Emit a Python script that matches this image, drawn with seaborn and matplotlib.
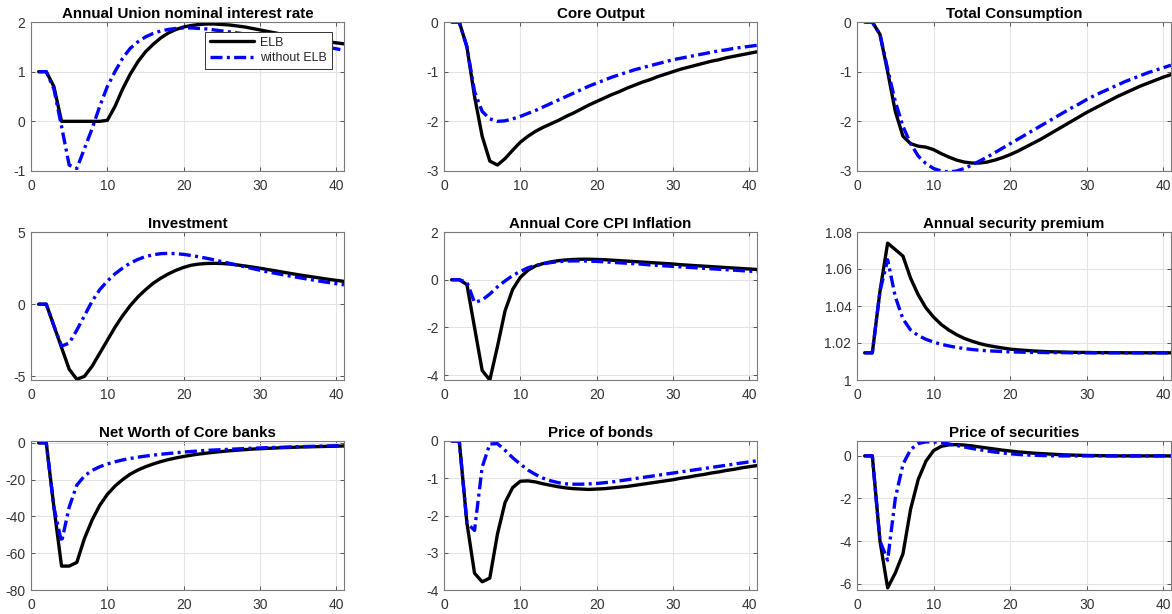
import numpy as np
import pandas as pd
import matplotlib
matplotlib.use("Agg")
import matplotlib.pyplot as plt
import seaborn as sns
from matplotlib.ticker import FuncFormatter

t = list(range(1, 42))

titles = ["Annual Union nominal interest rate", "Core Output", "Total Consumption",
          "Investment", "Annual Core CPI Inflation", "Annual security premium",
          "Net Worth of Core banks", "Price of bonds", "Price of securities"]

rate_elb = [1, 1, 0.7, 0, 0, 0, 0, 0, 0, 0.02, 0.3, 0.65, 0.95, 1.2, 1.4, 1.55, 1.68, 1.78, 1.85, 1.9,
            1.93, 1.95, 1.96, 1.96, 1.95, 1.94, 1.92, 1.9, 1.87, 1.84, 1.81, 1.78, 1.75, 1.72, 1.69,
            1.67, 1.64, 1.62, 1.6, 1.58, 1.56]
rate_no = [1, 1, 0.65, -0.1, -0.88, -0.95, -0.55, -0.15, 0.3, 0.7, 1.0, 1.27, 1.47, 1.6, 1.7, 1.77,
           1.82, 1.85, 1.87, 1.88, 1.88, 1.87, 1.86, 1.84, 1.82, 1.8, 1.78, 1.76, 1.74, 1.72, 1.7,
           1.67, 1.65, 1.62, 1.6, 1.57, 1.55, 1.52, 1.49, 1.46, 1.43]

out_elb = [0, 0, -0.5, -1.5, -2.3, -2.8, -2.88, -2.75, -2.58, -2.42, -2.3, -2.2, -2.12, -2.05, -1.98,
           -1.9, -1.83, -1.75, -1.67, -1.6, -1.53, -1.46, -1.4, -1.33, -1.27, -1.21, -1.16, -1.1,
           -1.05, -1.0, -0.95, -0.91, -0.87, -0.83, -0.79, -0.76, -0.72, -0.69, -0.66, -0.63, -0.6]
out_no = [0, 0, -0.5, -1.4, -1.8, -1.95, -2.0, -1.99, -1.95, -1.9, -1.84, -1.78, -1.71, -1.64, -1.57,
          -1.5, -1.43, -1.36, -1.29, -1.23, -1.17, -1.11, -1.06, -1.01, -0.96, -0.92, -0.88, -0.84,
          -0.8, -0.76, -0.73, -0.7, -0.67, -0.64, -0.61, -0.58, -0.56, -0.53, -0.51, -0.49, -0.47]

cons_elb = [0, 0, -0.25, -1.0, -1.8, -2.3, -2.45, -2.5, -2.52, -2.57, -2.65, -2.72, -2.78, -2.82,
            -2.84, -2.84, -2.82, -2.78, -2.73, -2.67, -2.6, -2.52, -2.44, -2.36, -2.27, -2.18, -2.09,
            -2.0, -1.91, -1.82, -1.74, -1.66, -1.58, -1.5, -1.43, -1.36, -1.29, -1.23, -1.17, -1.11,
            -1.06]
cons_no = [0, 0, -0.25, -0.95, -1.6, -2.1, -2.45, -2.7, -2.85, -2.95, -3.0, -3.02, -3.0, -2.95,
           -2.88, -2.8, -2.72, -2.63, -2.54, -2.45, -2.36, -2.27, -2.18, -2.09, -2.0, -1.91, -1.82,
           -1.73, -1.65, -1.56, -1.48, -1.41, -1.34, -1.27, -1.2, -1.14, -1.08, -1.02, -0.97, -0.92,
           -0.87]

inv_elb = [0, 0, -1.5, -3.0, -4.5, -5.2, -5.0, -4.3, -3.4, -2.5, -1.6, -0.8, -0.1, 0.5, 1.0, 1.45,
           1.8, 2.1, 2.35, 2.55, 2.7, 2.78, 2.82, 2.83, 2.82, 2.78, 2.72, 2.65, 2.57, 2.49, 2.4, 2.31,
           2.22, 2.13, 2.04, 1.96, 1.88, 1.8, 1.72, 1.65, 1.58]
inv_no = [0, 0, -1.5, -2.9, -2.7, -1.8, -0.8, 0.2, 1.0, 1.6, 2.1, 2.5, 2.85, 3.1, 3.3, 3.42, 3.5,
          3.52, 3.5, 3.45, 3.37, 3.28, 3.18, 3.07, 2.95, 2.83, 2.71, 2.59, 2.47, 2.35, 2.24, 2.14,
          2.04, 1.94, 1.85, 1.76, 1.67, 1.58, 1.5, 1.42, 1.34]

cpi_elb = [0, 0, -0.2, -2.0, -3.8, -4.2, -2.8, -1.3, -0.4, 0.1, 0.4, 0.58, 0.68, 0.75, 0.8, 0.83,
           0.85, 0.86, 0.86, 0.85, 0.84, 0.82, 0.8, 0.78, 0.76, 0.74, 0.72, 0.7, 0.68, 0.66, 0.63,
           0.61, 0.59, 0.57, 0.55, 0.53, 0.51, 0.49, 0.47, 0.45, 0.43]
cpi_no = [0, 0, -0.1, -0.95, -0.85, -0.6, -0.3, -0.05, 0.18, 0.35, 0.5, 0.6, 0.67, 0.72, 0.76, 0.78,
          0.79, 0.79, 0.78, 0.77, 0.75, 0.73, 0.71, 0.69, 0.67, 0.65, 0.62, 0.6, 0.58, 0.56, 0.54,
          0.52, 0.5, 0.48, 0.46, 0.44, 0.42, 0.4, 0.38, 0.36, 0.34]

prem_elb = [1.0147, 1.0147, 1.048, 1.074, 1.0705, 1.067, 1.055, 1.046, 1.039, 1.034, 1.030, 1.027,
            1.0245, 1.0225, 1.021, 1.0197, 1.0187, 1.018, 1.0173, 1.0167, 1.0163, 1.016, 1.0157,
            1.0155, 1.0153, 1.0152, 1.0151, 1.015, 1.0149, 1.0149, 1.0148, 1.0148, 1.0148, 1.0148,
            1.0147, 1.0147, 1.0147, 1.0147, 1.0147, 1.0147, 1.0147]
prem_no = [1.0147, 1.0147, 1.048, 1.065, 1.045, 1.033, 1.027, 1.024, 1.022, 1.0205, 1.0193, 1.0184,
           1.0176, 1.017, 1.0165, 1.0161, 1.0158, 1.0156, 1.0154, 1.0152, 1.0151, 1.015, 1.0149,
           1.0149, 1.0148, 1.0148, 1.0148, 1.0147, 1.0147, 1.0147, 1.0147, 1.0147, 1.0147, 1.0147,
           1.0147, 1.0147, 1.0147, 1.0147, 1.0147, 1.0147, 1.0147]

nw_elb = [0, 0, -35, -67, -67, -65, -52, -42, -34, -28, -23.5, -20, -17, -14.8, -13, -11.5, -10.2,
          -9.1, -8.2, -7.4, -6.7, -6.1, -5.6, -5.1, -4.7, -4.3, -4.0, -3.7, -3.4, -3.2, -3.0, -2.8,
          -2.6, -2.5, -2.3, -2.2, -2.1, -2.0, -1.9, -1.8, -1.7]
nw_no = [0, 0, -35, -54, -35, -23, -18, -15, -13, -11.5, -10.3, -9.3, -8.5, -7.8, -7.2, -6.7, -6.2,
         -5.8, -5.4, -5.0, -4.7, -4.4, -4.1, -3.9, -3.7, -3.5, -3.3, -3.1, -2.9, -2.8, -2.6, -2.5,
         -2.4, -2.2, -2.1, -2.0, -1.9, -1.8, -1.7, -1.6, -1.5]

bond_elb = [0, 0, -2.2, -3.55, -3.78, -3.68, -2.5, -1.65, -1.25, -1.08, -1.07, -1.1, -1.15, -1.19,
            -1.23, -1.26, -1.28, -1.29, -1.3, -1.29, -1.28, -1.26, -1.24, -1.22, -1.19, -1.16, -1.13,
            -1.1, -1.07, -1.04, -1.0, -0.97, -0.93, -0.9, -0.86, -0.83, -0.79, -0.76, -0.72, -0.69,
            -0.66]
bond_no = [0, 0, -2.2, -2.4, -0.7, -0.08, -0.07, -0.25, -0.45, -0.62, -0.78, -0.9, -1.0, -1.07,
           -1.12, -1.15, -1.16, -1.16, -1.15, -1.14, -1.12, -1.1, -1.07, -1.04, -1.01, -0.98, -0.95,
           -0.92, -0.89, -0.86, -0.83, -0.8, -0.77, -0.74, -0.71, -0.68, -0.65, -0.62, -0.59, -0.56,
           -0.53]

sec_elb = [0, 0, -4.0, -6.2, -5.5, -4.6, -2.5, -1.1, -0.25, 0.25, 0.45, 0.52, 0.53, 0.51, 0.47, 0.42,
           0.37, 0.32, 0.27, 0.23, 0.19, 0.16, 0.13, 0.11, 0.09, 0.07, 0.05, 0.04, 0.03, 0.02, 0.015,
           0.01, 0.005, 0, 0, 0, 0, 0, 0, 0, 0]
sec_no = [0, 0, -4.0, -4.9, -2.0, -0.4, 0.3, 0.58, 0.66, 0.66, 0.62, 0.56, 0.49, 0.42, 0.35, 0.29,
          0.23, 0.18, 0.14, 0.1, 0.07, 0.05, 0.03, 0.02, 0.01, 0, 0, 0, 0, 0, 0, 0, 0, 0, 0, 0, 0, 0,
          0, 0, 0]

elb_series = [rate_elb, out_elb, cons_elb, inv_elb, cpi_elb, prem_elb, nw_elb, bond_elb, sec_elb]
no_series = [rate_no, out_no, cons_no, inv_no, cpi_no, prem_no, nw_no, bond_no, sec_no]

ylims = [(-1, 2), (-3, 0), (-3, 0), (-5.25, 5), (-4.2, 2), (1, 1.08), (-80, 1), (-4, 0), (-6.3, 0.7)]
yticks = [[-1, 0, 1, 2], [-3, -2, -1, 0], [-3, -2, -1, 0], [-5, 0, 5], [-4, -2, 0, 2],
          [1, 1.02, 1.04, 1.06, 1.08], [-80, -60, -40, -20, 0], [-4, -3, -2, -1, 0], [-6, -4, -2, 0]]
xticks = [0, 10, 20, 30, 40]

sns.set_theme(style="whitegrid")
plt.rcParams["font.family"] = ["Liberation Sans", "DejaVu Sans"]
plt.rcParams["axes.unicode_minus"] = False

fig = plt.figure(figsize=(11.72, 6.14), dpi=100)
W, H = 1172, 614
lefts = [31, 444, 857]
tops = [22, 232, 441]
widths = [313, 313, 314]
heights = [149, 148, 149]

fmt = FuncFormatter(lambda v, p: "%g" % v)

for i in range(9):
    r, c = divmod(i, 3)
    ax = fig.add_axes([lefts[c] / W, 1 - (tops[r] + heights[r]) / H, widths[c] / W, heights[r] / H])
    ax.set_facecolor("white")
    sns.lineplot(x=t, y=elb_series[i], ax=ax, color="black", linewidth=2.4, label="ELB",
                 legend=False)
    sns.lineplot(x=t, y=no_series[i], ax=ax, color="#0000ff", linewidth=2.4,
                 linestyle=(0, (3.6, 1.3, 0.9, 1.3)), label="without ELB", legend=False)
    ax.set_xlim(0, 41)
    ax.set_ylim(*ylims[i])
    ax.set_xticks(xticks)
    ax.set_yticks(yticks[i])
    ax.yaxis.set_major_formatter(fmt)
    ax.grid(True, color="#e3e3e3", linewidth=0.8)
    for s in ax.spines.values():
        s.set_color("#7a7a7a")
        s.set_linewidth(0.8)
    ax.tick_params(axis="both", which="major", direction="in", length=3, width=0.7,
                   color="#555555", labelsize=10, labelcolor="#333333", pad=4,
                   left=True, bottom=True, right=True, top=True)
    ax.tick_params(axis="x", pad=6)
    ax.tick_params(labelright=False, labeltop=False)
    ax.set_title(titles[i], fontsize=10.9, fontweight="bold", color="black", pad=3)
    ax.set_xlabel("")
    ax.set_ylabel("")
    if i == 0:
        leg = ax.legend(loc="upper right", bbox_to_anchor=(0.962, 0.935), borderaxespad=0,
                        fancybox=False, framealpha=1, edgecolor="#333333", fontsize=9,
                        handlelength=3.5, borderpad=0.4, labelspacing=0.3, handletextpad=0.5)
        leg.get_frame().set_linewidth(0.7)

fig.savefig("out.png", dpi=100)
